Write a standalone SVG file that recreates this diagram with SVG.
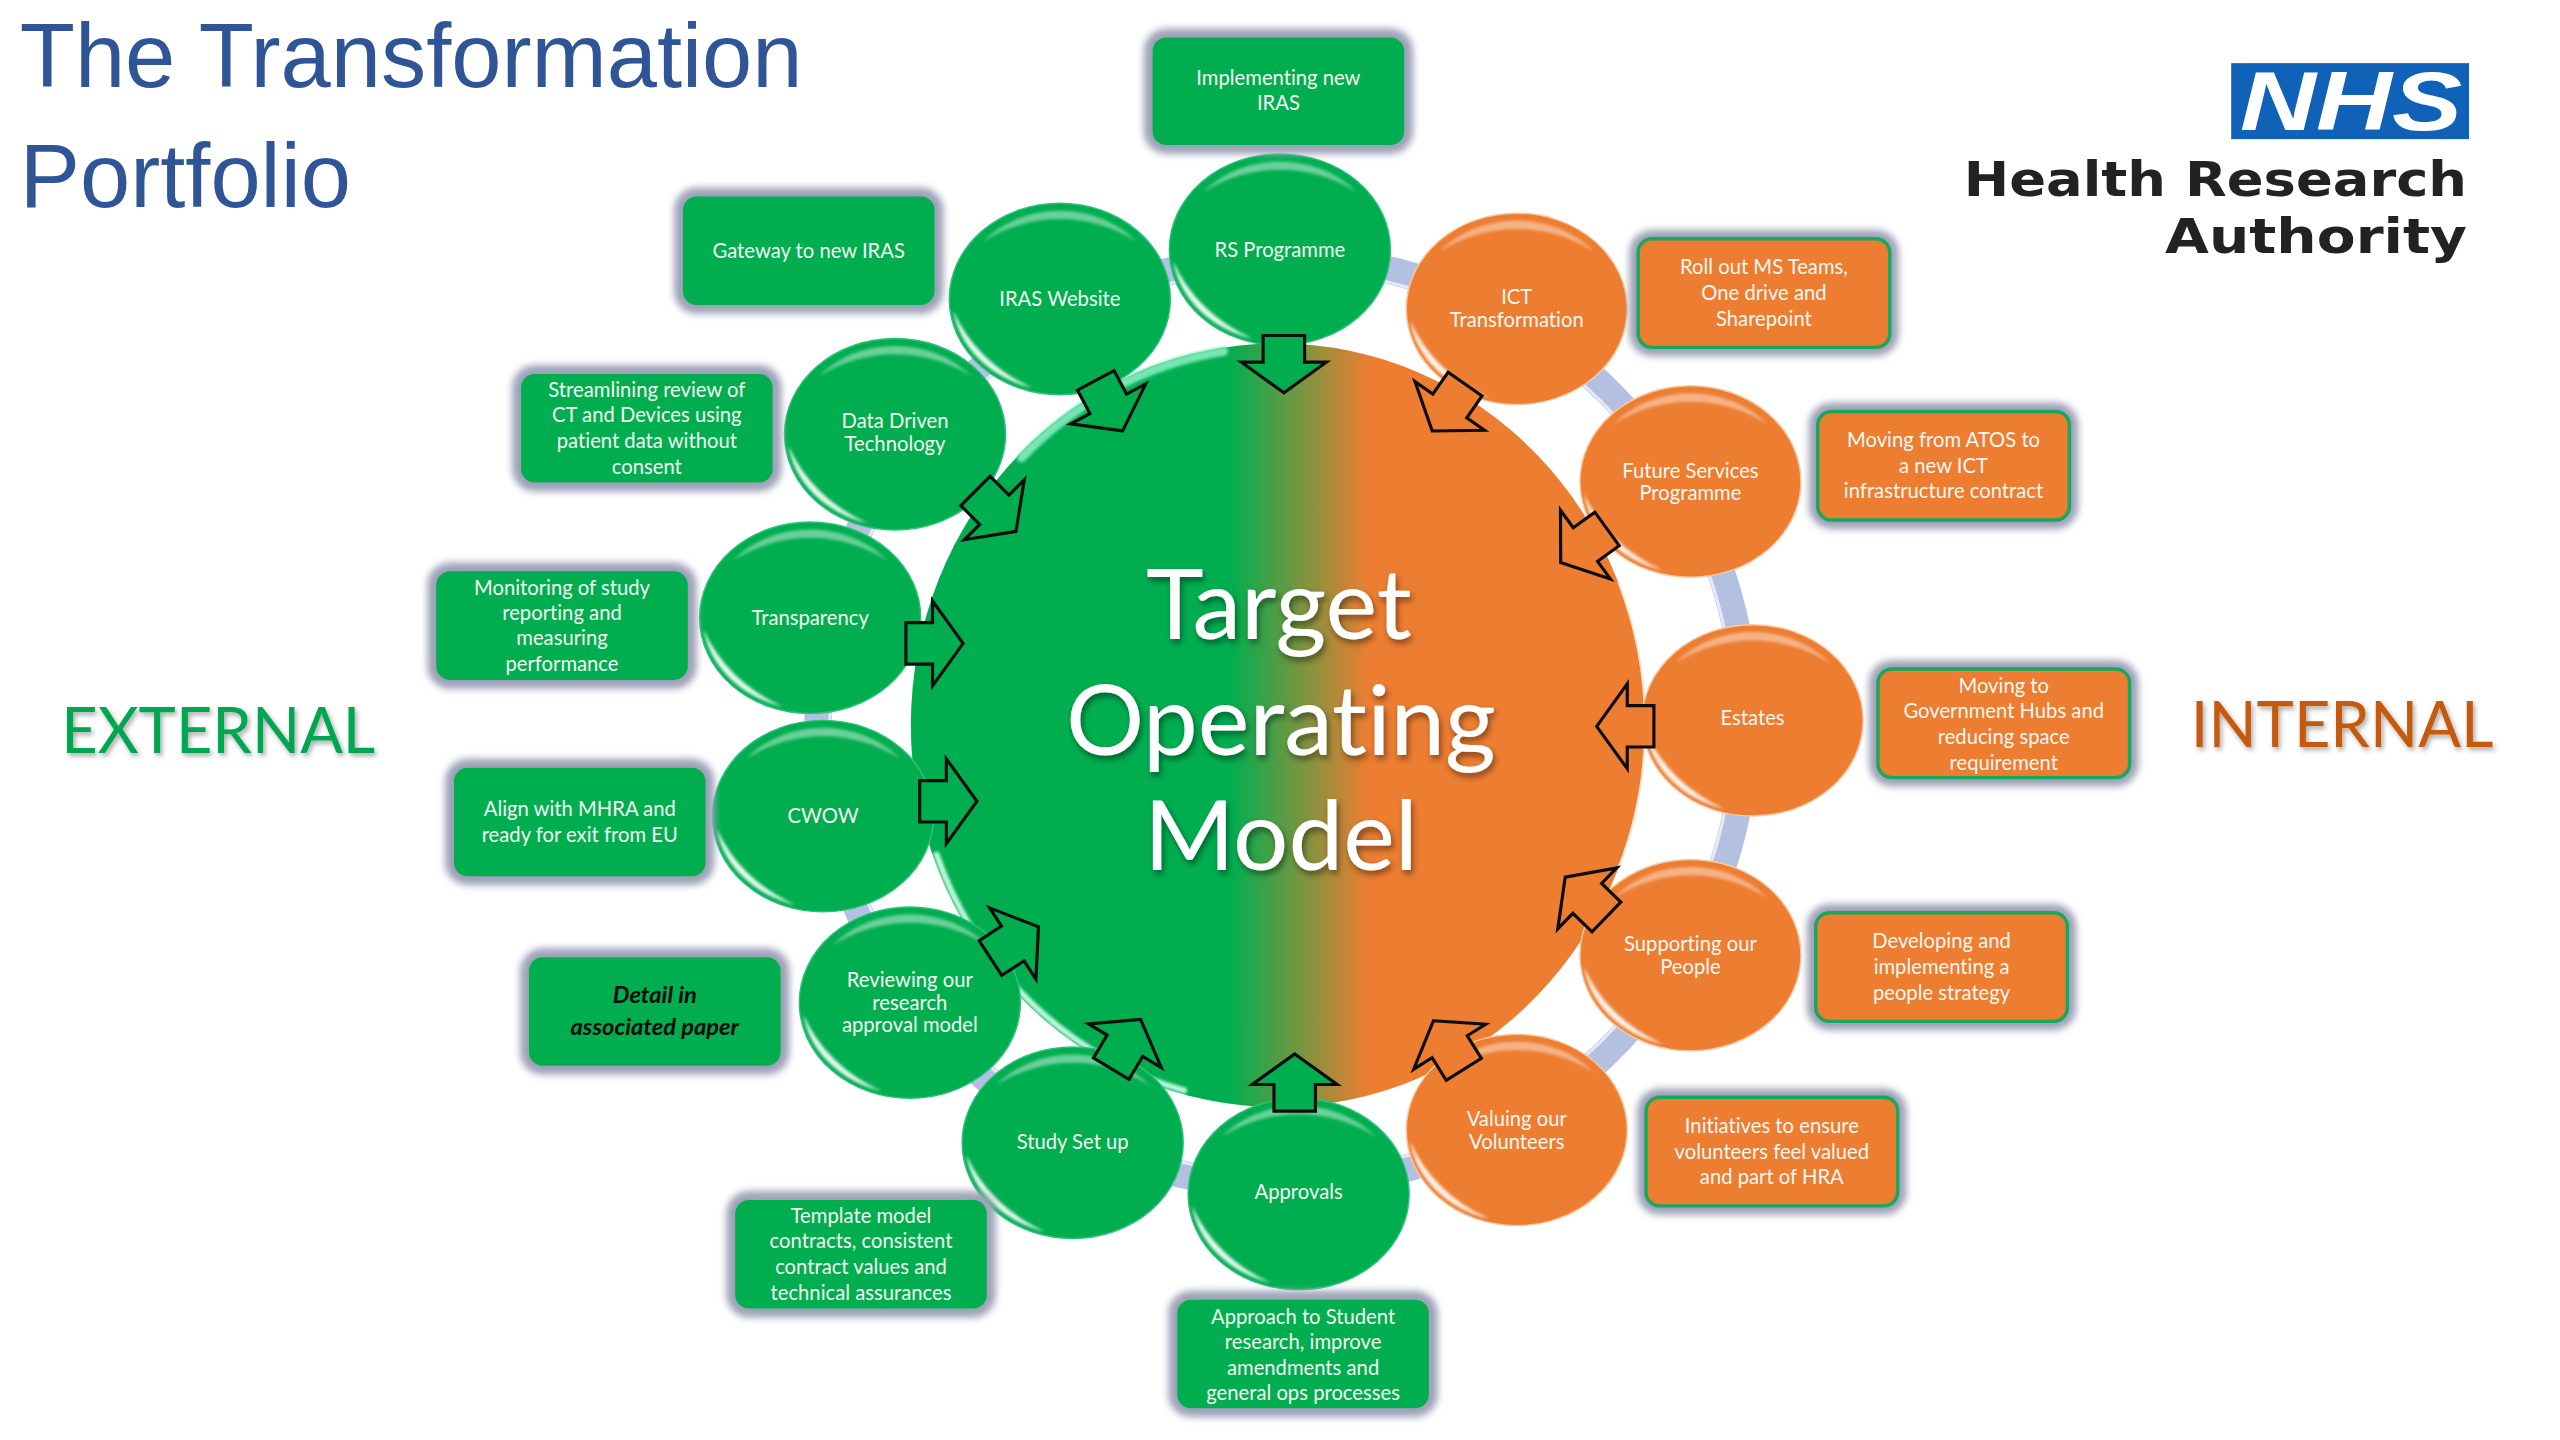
<svg xmlns="http://www.w3.org/2000/svg" xmlns:xlink="http://www.w3.org/1999/xlink" width="2560" height="1440" viewBox="0 0 2560 1440">
<style>
.t{font-family:Lato,"Liberation Sans",sans-serif;font-size:20.5px;fill:#f4f7f2;text-anchor:middle;font-variant-ligatures:none}
.g{fill:#00ae50;stroke:#2cc07c;stroke-width:1.5}
.o{fill:#ed7d31;stroke:#f6c9a0;stroke-width:1.5}
.halo{fill:#9ea2b8;stroke:#9ea2b8;stroke-width:18;filter:url(#blur)}
.bg{fill:#00ae50}
.bo{fill:#ed7d31;stroke:#16a85c;stroke-width:3.5}
.ag{fill:#00ae50;stroke:#0c0c0c;stroke-width:3.2;stroke-linejoin:miter}
.ao{fill:#ed7d31;stroke:#0c0c0c;stroke-width:3.2;stroke-linejoin:miter}
.big{font-family:Lato,"Liberation Sans",sans-serif;font-size:99px;fill:#fff;text-anchor:middle;filter:url(#shadow);font-variant-ligatures:none}
.side{font-family:Lato,"Liberation Sans",sans-serif;font-size:64px;filter:url(#shadow2);font-variant-ligatures:none}
.title{font-family:"Liberation Sans",Arial,sans-serif;font-size:91.5px;fill:#2f5597}
.logo{font-family:"DejaVu Sans",sans-serif;font-weight:700;font-size:48px;fill:#222;text-anchor:end}
</style>
<defs>
<filter id="blur" x="-20%" y="-30%" width="140%" height="160%"><feGaussianBlur stdDeviation="4"/></filter>
<filter id="soft" x="-30%" y="-30%" width="160%" height="160%"><feGaussianBlur stdDeviation="1.4"/></filter>
<filter id="shadow" x="-20%" y="-20%" width="140%" height="140%"><feDropShadow dx="2" dy="4" stdDeviation="3" flood-color="#000" flood-opacity=".45"/></filter>
<filter id="shadow2" x="-20%" y="-20%" width="140%" height="140%"><feDropShadow dx="2" dy="3" stdDeviation="2.5" flood-color="#000" flood-opacity=".35"/></filter>
<linearGradient id="mainGrad" x1="0" y1="0" x2="1" y2="0">
<stop offset=".435" stop-color="#00ae50"/>
<stop offset=".625" stop-color="#ed7d31"/>
</linearGradient>
<g id="bevel">
<path d="M-108,12 A110,95 0 0 0 -28,90 A165,145 0 0 1 -108,12 Z" fill="#fff" opacity=".9" filter="url(#soft)"/>
<path d="M-78,-58 A100,84 0 0 1 78,-58 A135,125 0 0 0 -78,-58 Z" fill="#fff" opacity=".42" filter="url(#soft)"/>
</g>
<path id="arrow" d="M0,-29 L43,2 L21,2 L21,29 L-21,29 L-21,2 L-43,2 Z"/>
</defs>
<rect width="2560" height="1440" fill="#fff"/>
<g transform="scale(.98682)">
<g id="title">
<text class="title" x="20" y="88">The Transformation</text>
<text class="title" x="20" y="210">Portfolio</text>
</g>
<g id="logo">
<rect x="2261" y="64" width="241" height="77" fill="#0f62b8"/>
<text x="2270" y="132" font-family="Liberation Sans,sans-serif" font-size="84" font-weight="700" font-style="italic" fill="#fff" textLength="225" lengthAdjust="spacingAndGlyphs">NHS</text>
<text class="logo" x="2500" y="199" textLength="510" lengthAdjust="spacingAndGlyphs">Health Research</text>
<text class="logo" x="2500" y="256" textLength="306" lengthAdjust="spacingAndGlyphs">Authority</text>
</g>
<text id="external" class="side" x="62" y="763" fill="#00a651">EXTERNAL</text>
<text id="internal" class="side" x="2220" y="757" fill="#c55a11">INTERNAL</text>
<g id="ring">
<circle cx="1299" cy="731" r="470" fill="none" stroke="#b4c0e2" stroke-width="28"/>
<circle cx="1299" cy="731" r="458" fill="none" stroke="#e6eaf6" stroke-width="3"/>
</g>
<g id="main">
<ellipse cx="1295" cy="735" rx="372" ry="387" fill="url(#mainGrad)"/>
<path d="M949,866 A368,383 0 0 0 1200,1105" fill="none" stroke="#c0f6de" stroke-width="6" stroke-linecap="round" filter="url(#soft)"/>
<path d="M1035,464 A368,383 0 0 1 1240,356" fill="none" stroke="#78e6b4" stroke-width="9" stroke-linecap="round" filter="url(#soft)"/>
<path d="M1640,590 A372,387 0 0 1 1640,880" fill="none" stroke="#ffe6d0" stroke-width="2"/>
<text class="big" x="1296" y="648">Target</text>
<text class="big" x="1298" y="765">Operating</text>
<text class="big" x="1298" y="882">Model</text>
</g>
<g id="node-rs"><ellipse class="g" cx="1297" cy="253" rx="112" ry="97"/><use xlink:href="#bevel" href="#bevel" x="1297" y="253"/><text class="t" x="1297" y="260">RS Programme</text></g>
<g id="node-iras"><ellipse class="g" cx="1074" cy="303" rx="112" ry="97"/><use xlink:href="#bevel" href="#bevel" x="1074" y="303"/><text class="t" x="1074" y="310">IRAS Website</text></g>
<g id="node-data"><ellipse class="g" cx="907" cy="440" rx="112" ry="97"/><use xlink:href="#bevel" href="#bevel" x="907" y="440"/><text class="t" x="907" y="434">Data Driven</text><text class="t" x="907" y="457">Technology</text></g>
<g id="node-transparency"><ellipse class="g" cx="821" cy="626" rx="112" ry="97"/><use xlink:href="#bevel" href="#bevel" x="821" y="626"/><text class="t" x="821" y="633">Transparency</text></g>
<g id="node-cwow"><ellipse class="g" cx="834" cy="827" rx="112" ry="97"/><use xlink:href="#bevel" href="#bevel" x="834" y="827"/><text class="t" x="834" y="834">CWOW</text></g>
<g id="node-reviewing"><ellipse class="g" cx="922" cy="1016" rx="112" ry="97"/><use xlink:href="#bevel" href="#bevel" x="922" y="1016"/><text class="t" x="922" y="1000">Reviewing our</text><text class="t" x="922" y="1023">research</text><text class="t" x="922" y="1046">approval model</text></g>
<g id="node-study"><ellipse class="g" cx="1087" cy="1158" rx="112" ry="97"/><use xlink:href="#bevel" href="#bevel" x="1087" y="1158"/><text class="t" x="1087" y="1164">Study Set up</text></g>
<g id="node-approvals"><ellipse class="g" cx="1316" cy="1210" rx="112" ry="97"/><use xlink:href="#bevel" href="#bevel" x="1316" y="1210"/><text class="t" x="1316" y="1215">Approvals</text></g>
<g id="node-ict"><ellipse class="o" cx="1537" cy="313" rx="112" ry="97"/><use xlink:href="#bevel" href="#bevel" x="1537" y="313"/><text class="t" x="1537" y="308">ICT</text><text class="t" x="1537" y="331">Transformation</text></g>
<g id="node-future"><ellipse class="o" cx="1713" cy="488" rx="112" ry="97"/><use xlink:href="#bevel" href="#bevel" x="1713" y="488"/><text class="t" x="1713" y="484">Future Services</text><text class="t" x="1713" y="507">Programme</text></g>
<g id="node-estates"><ellipse class="o" cx="1776" cy="730" rx="112" ry="97"/><use xlink:href="#bevel" href="#bevel" x="1776" y="730"/><text class="t" x="1776" y="735">Estates</text></g>
<g id="node-supporting"><ellipse class="o" cx="1713" cy="968" rx="112" ry="97"/><use xlink:href="#bevel" href="#bevel" x="1713" y="968"/><text class="t" x="1713" y="964">Supporting our</text><text class="t" x="1713" y="987">People</text></g>
<g id="node-valuing"><ellipse class="o" cx="1537" cy="1145" rx="112" ry="97"/><use xlink:href="#bevel" href="#bevel" x="1537" y="1145"/><text class="t" x="1537" y="1141">Valuing our</text><text class="t" x="1537" y="1164">Volunteers</text></g>
<g id="box-implementing"><rect class="halo" x="1168" y="38" width="255" height="109" rx="14"/><rect class="bg" x="1168" y="38" width="255" height="109" rx="14"/><text class="t" x="1295.5" y="86">Implementing new</text><text class="t" x="1295.5" y="111">IRAS</text></g>
<g id="box-gateway"><rect class="halo" x="692" y="199" width="255" height="110" rx="14"/><rect class="bg" x="692" y="199" width="255" height="110" rx="14"/><text class="t" x="819.5" y="261">Gateway to new IRAS</text></g>
<g id="box-streamlining"><rect class="halo" x="528" y="379" width="255" height="110" rx="14"/><rect class="bg" x="528" y="379" width="255" height="110" rx="14"/><text class="t" x="655.5" y="402.5">Streamlining review of</text><text class="t" x="655.5" y="428">CT and Devices using</text><text class="t" x="655.5" y="454">patient data without</text><text class="t" x="655.5" y="480">consent</text></g>
<g id="box-monitoring"><rect class="halo" x="442" y="579" width="255" height="110" rx="14"/><rect class="bg" x="442" y="579" width="255" height="110" rx="14"/><text class="t" x="569.5" y="602.5">Monitoring of study</text><text class="t" x="569.5" y="628">reporting and</text><text class="t" x="569.5" y="654">measuring</text><text class="t" x="569.5" y="680">performance</text></g>
<g id="box-align"><rect class="halo" x="460" y="778" width="255" height="110" rx="14"/><rect class="bg" x="460" y="778" width="255" height="110" rx="14"/><text class="t" x="587.5" y="827">Align with MHRA and</text><text class="t" x="587.5" y="853">ready for exit from EU</text></g>
<g id="box-detail"><rect class="halo" x="536" y="970" width="255" height="110" rx="14"/><rect class="bg" x="536" y="970" width="255" height="110" rx="14"/><text class="t" x="663.5" y="1016" style="font-size:24px;font-weight:700;font-style:italic;fill:#0a0a0a">Detail in</text><text class="t" x="663.5" y="1049" style="font-size:24px;font-weight:700;font-style:italic;fill:#0a0a0a">associated paper</text></g>
<g id="box-template"><rect class="halo" x="745" y="1216" width="255" height="110" rx="14"/><rect class="bg" x="745" y="1216" width="255" height="110" rx="14"/><text class="t" x="872.5" y="1239.5">Template model</text><text class="t" x="872.5" y="1265">contracts, consistent</text><text class="t" x="872.5" y="1291">contract values and</text><text class="t" x="872.5" y="1317">technical assurances</text></g>
<g id="box-approach"><rect class="halo" x="1193" y="1317" width="255" height="110" rx="14"/><rect class="bg" x="1193" y="1317" width="255" height="110" rx="14"/><text class="t" x="1320.5" y="1341.5">Approach to Student</text><text class="t" x="1320.5" y="1367">research, improve</text><text class="t" x="1320.5" y="1393">amendments and</text><text class="t" x="1320.5" y="1419">general ops processes</text></g>
<g id="box-roll"><rect class="halo" x="1660" y="242" width="255" height="110" rx="14"/><rect class="bo" x="1660" y="242" width="255" height="110" rx="14"/><text class="t" x="1787.5" y="278">Roll out MS Teams,</text><text class="t" x="1787.5" y="304">One drive and</text><text class="t" x="1787.5" y="330">Sharepoint</text></g>
<g id="box-atos"><rect class="halo" x="1842" y="417" width="255" height="110" rx="14"/><rect class="bo" x="1842" y="417" width="255" height="110" rx="14"/><text class="t" x="1969.5" y="453">Moving from ATOS to</text><text class="t" x="1969.5" y="479">a new ICT</text><text class="t" x="1969.5" y="505">infrastructure contract</text></g>
<g id="box-gov"><rect class="halo" x="1903" y="678" width="255" height="110" rx="14"/><rect class="bo" x="1903" y="678" width="255" height="110" rx="14"/><text class="t" x="2030.5" y="702">Moving to</text><text class="t" x="2030.5" y="728">Government Hubs and</text><text class="t" x="2030.5" y="754">reducing space</text><text class="t" x="2030.5" y="780">requirement</text></g>
<g id="box-dev"><rect class="halo" x="1840" y="925" width="255" height="110" rx="14"/><rect class="bo" x="1840" y="925" width="255" height="110" rx="14"/><text class="t" x="1967.5" y="961">Developing and</text><text class="t" x="1967.5" y="987">implementing a</text><text class="t" x="1967.5" y="1013">people strategy</text></g>
<g id="box-init"><rect class="halo" x="1668" y="1112" width="255" height="110" rx="14"/><rect class="bo" x="1668" y="1112" width="255" height="110" rx="14"/><text class="t" x="1795.5" y="1148">Initiatives to ensure</text><text class="t" x="1795.5" y="1174">volunteers feel valued</text><text class="t" x="1795.5" y="1200">and part of HRA</text></g>
<g id="connectors">
<use xlink:href="#arrow" href="#arrow" class="ag" transform="translate(1301,369) rotate(180)"/>
<use xlink:href="#arrow" href="#arrow" class="ag" transform="translate(1124,411) rotate(152)"/>
<use xlink:href="#arrow" href="#arrow" class="ag" transform="translate(1009,518) rotate(135)"/>
<use xlink:href="#arrow" href="#arrow" class="ag" transform="translate(947,652) rotate(90)"/>
<use xlink:href="#arrow" href="#arrow" class="ag" transform="translate(961,812) rotate(90)"/>
<use xlink:href="#arrow" href="#arrow" class="ag" transform="translate(1028,955) rotate(57)"/>
<use xlink:href="#arrow" href="#arrow" class="ag" transform="translate(1141,1058) rotate(31)"/>
<use xlink:href="#arrow" href="#arrow" class="ag" transform="translate(1312,1097)"/>
<use xlink:href="#arrow" href="#arrow" class="ao" transform="translate(1468,1059) rotate(-32)"/>
<use xlink:href="#arrow" href="#arrow" class="ao" transform="translate(1607,909) rotate(-46)"/>
<use xlink:href="#arrow" href="#arrow" class="ao" transform="translate(1647,736) rotate(-90)"/>
<use xlink:href="#arrow" href="#arrow" class="ao" transform="translate(1605,553) rotate(-126)"/>
<use xlink:href="#arrow" href="#arrow" class="ao" transform="translate(1468,413) rotate(-145)"/>
</g>
</g>
</svg>
